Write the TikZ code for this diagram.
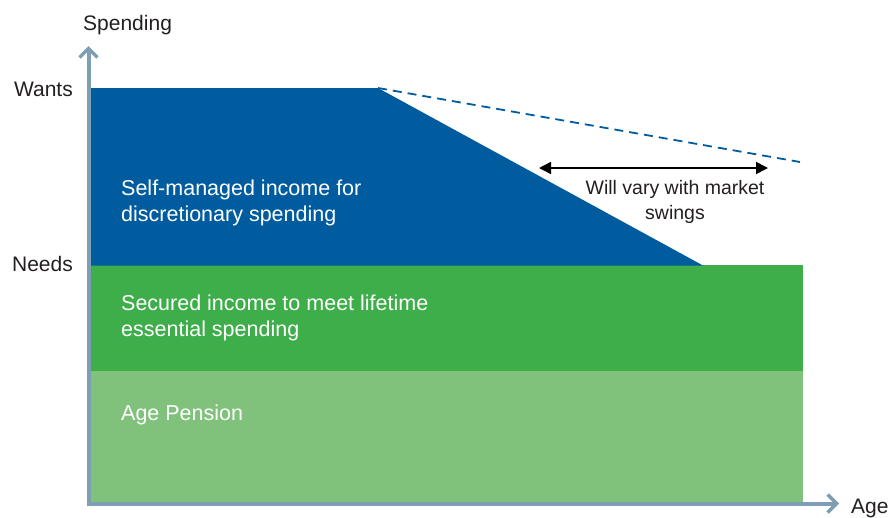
\documentclass[tikz,border=0pt]{standalone}
\usepackage{fontspec}
\setmainfont{Liberation Sans}
\usetikzlibrary{arrows.meta}
\definecolor{axisc}{HTML}{7F9DB3}
\definecolor{bluec}{HTML}{005C9E}
\definecolor{greenc}{HTML}{3DAE4A}
\definecolor{lgreenc}{HTML}{80C27B}
\definecolor{txtc}{HTML}{231F20}
\begin{document}
\begin{tikzpicture}[x=1pt,y=-1pt,
  axis/.style={draw=axisc,line width=4pt,-{Straight Barb[length=9pt,width=18pt,line width=3.5pt]}},
  lbl/.style={font=\fontsize{21}{26}\selectfont,text=txtc,inner sep=0pt},
  varylbl/.style={font=\fontsize{19.5}{24.5}\selectfont,text=txtc,inner sep=0pt,align=center},
  inlbl/.style={font=\fontsize{21.5}{26}\selectfont,text=white,inner sep=0pt,align=left,anchor=west},
  dashline/.style={draw=bluec,line width=1.8pt,dash pattern=on 9pt off 6pt},
  vary/.style={draw=black,line width=1.5pt,{Triangle[length=12pt,width=12pt]}-{Triangle[length=12pt,width=12pt]}}]
\useasboundingbox (0,0) rectangle (888,517);
% bands
\fill[lgreenc] (90,370) rectangle (803,502);
\fill[greenc] (90,265) rectangle (803,370.5);
\fill[bluec] (90,88) -- (378,88) -- (703,265.5) -- (90,265.5) -- cycle;
% dashed trend
\coordinate (knee) at (378,88);
\coordinate (dashend) at (800,162);
\draw[dashline] (knee) -- (dashend);
% axes
\coordinate (ytop) at (88.5,46);
\coordinate (ybot) at (88.5,505.5);
\coordinate (xstart) at (86.5,503.5);
\coordinate (xend) at (839,503.5);
\draw[axis] (ybot) -- (ytop);
\draw[axis] (xstart) -- (xend);
% range arrow
\coordinate (va) at (539,168);
\coordinate (vb) at (768,168);
\draw[vary] (va) -- (vb);
% labels
\node[lbl,anchor=west] (spending) at (83,25) {Spending};
\node[lbl,anchor=east] (wants) at (73,89) {Wants};
\node[lbl,anchor=east] (needs) at (73,264) {Needs};
\node[lbl,anchor=west] (age) at (851,508) {Age};
\node[varylbl] (varytxt) at (675,202) {Will vary with market\\swings};
\node[inlbl] (self) at (121,202.5) {Self-managed income for\\discretionary spending};
\node[inlbl] (secured) at (121,318) {Secured income to meet lifetime\\essential spending};
\node[inlbl] (pension) at (121,415) {Age Pension};
\end{tikzpicture}
\end{document}
